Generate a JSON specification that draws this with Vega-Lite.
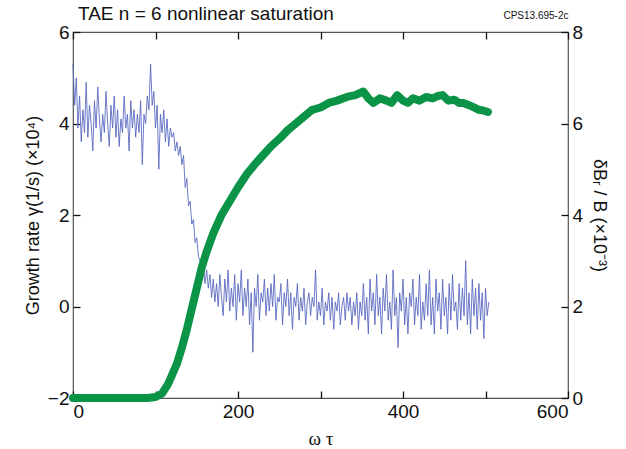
{
  "$schema": "https://vega.github.io/schema/vega-lite/v6.json",
  "autosize": "none",
  "padding": {"left": 73, "top": 32, "right": 58, "bottom": 51},
  "width": 495,
  "height": 366,
  "background": "white",
  "config": {
    "view": {"stroke": "#555", "strokeWidth": 1.2},
    "font": "Liberation Sans",
    "axis": {"grid": false, "domain": false, "ticks": true, "offset": -7, "tickColor": "#111", "tickWidth": 1.3, "tickSize": 7, "labelColor": "#111", "labelFontSize": 19, "labelFont": "Liberation Sans", "titleFont": "Liberation Sans", "titleFontSize": 18, "titleFontWeight": "normal", "titleColor": "#111", "labelPadding": 4}
  },
  "title": {"text": "TAE n = 6 nonlinear saturation", "anchor": "start", "frame": "group", "fontSize": 19, "fontWeight": "normal", "font": "Liberation Sans", "color": "#111", "offset": -14, "dx": 5},
  "datasets": {
    "growth": [
      {"t":0,"g":5.3},{"t":2,"g":4.4},{"t":4,"g":5.0},{"t":6,"g":3.9},{"t":8,"g":4.6},{"t":10,"g":3.6},{"t":12,"g":4.3},{"t":14,"g":3.8},{"t":16,"g":4.9},{"t":18,"g":3.7},
      {"t":20,"g":4.4},{"t":22,"g":4.0},{"t":24,"g":3.4},{"t":26,"g":4.5},{"t":28,"g":3.9},{"t":30,"g":4.8},{"t":32,"g":4.1},{"t":34,"g":3.6},{"t":36,"g":4.2},{"t":38,"g":3.8},
      {"t":40,"g":4.7},{"t":42,"g":4.0},{"t":44,"g":3.5},{"t":46,"g":4.4},{"t":48,"g":3.9},{"t":50,"g":4.6},{"t":52,"g":3.7},{"t":54,"g":4.3},{"t":56,"g":3.5},{"t":58,"g":4.1},
      {"t":60,"g":3.8},{"t":62,"g":4.6},{"t":64,"g":3.9},{"t":66,"g":4.2},{"t":68,"g":3.4},{"t":70,"g":4.5},{"t":72,"g":3.9},{"t":74,"g":4.3},{"t":76,"g":3.7},{"t":78,"g":4.2},
      {"t":80,"g":3.8},{"t":82,"g":4.5},{"t":84,"g":3.1},{"t":86,"g":4.2},{"t":88,"g":4.0},{"t":90,"g":4.6},{"t":92,"g":4.3},{"t":94,"g":5.3},{"t":96,"g":4.4},{"t":98,"g":4.7},
      {"t":100,"g":3.9},{"t":102,"g":4.4},{"t":104,"g":3.0},{"t":106,"g":4.2},{"t":108,"g":3.8},{"t":110,"g":4.3},{"t":112,"g":3.6},{"t":114,"g":4.1},{"t":116,"g":3.5},{"t":118,"g":3.9},
      {"t":120,"g":3.7},{"t":122,"g":3.8},{"t":124,"g":3.4},{"t":126,"g":3.6},{"t":128,"g":3.3},{"t":130,"g":3.5},{"t":132,"g":3.1},{"t":134,"g":3.3},{"t":136,"g":2.6},{"t":138,"g":2.8},
      {"t":140,"g":2.2},{"t":142,"g":2.3},{"t":144,"g":1.8},{"t":146,"g":1.9},{"t":148,"g":1.4},{"t":150,"g":1.5},{"t":152,"g":1.1},{"t":154,"g":1.0},{"t":156,"g":0.7},{"t":158,"g":0.9},
      {"t":160,"g":0.5},{"t":162,"g":0.8},{"t":164,"g":0.4},{"t":166,"g":0.7},{"t":168,"g":0.2},{"t":170,"g":0.6},{"t":172,"g":0.1},{"t":174,"g":0.5},{"t":176,"g":0.0},{"t":178,"g":0.7},
      {"t":180,"g":0.2},{"t":182,"g":-0.2},{"t":184,"g":0.6},{"t":186,"g":0.1},{"t":188,"g":0.8},{"t":190,"g":-0.1},{"t":192,"g":0.4},{"t":194,"g":0.0},{"t":196,"g":0.7},{"t":198,"g":-0.3},
      {"t":200,"g":0.5},{"t":202,"g":0.1},{"t":204,"g":0.8},{"t":206,"g":-0.2},{"t":208,"g":0.4},{"t":210,"g":0.0},{"t":212,"g":0.6},{"t":214,"g":-0.4},{"t":216,"g":0.3},{"t":218,"g":-1.0},
      {"t":220,"g":0.4},{"t":222,"g":0.0},{"t":224,"g":0.7},{"t":226,"g":-0.3},{"t":228,"g":0.3},{"t":230,"g":0.1},{"t":232,"g":0.6},{"t":234,"g":-0.2},{"t":236,"g":0.4},{"t":238,"g":-0.1},
      {"t":240,"g":0.5},{"t":242,"g":0.0},{"t":244,"g":0.7},{"t":246,"g":-0.3},{"t":248,"g":0.2},{"t":250,"g":0.1},{"t":252,"g":0.5},{"t":254,"g":-0.4},{"t":256,"g":0.3},{"t":258,"g":0.0},
      {"t":260,"g":0.6},{"t":262,"g":-0.2},{"t":264,"g":0.3},{"t":266,"g":-0.5},{"t":268,"g":0.2},{"t":270,"g":0.0},{"t":272,"g":0.5},{"t":274,"g":-0.3},{"t":276,"g":0.2},{"t":278,"g":-0.1},
      {"t":280,"g":0.4},{"t":282,"g":-0.4},{"t":284,"g":0.1},{"t":286,"g":0.3},{"t":288,"g":-0.2},{"t":290,"g":0.2},{"t":292,"g":0.0},{"t":294,"g":0.8},{"t":296,"g":-0.3},{"t":298,"g":0.1},
      {"t":300,"g":-0.2},{"t":302,"g":0.4},{"t":304,"g":-0.4},{"t":306,"g":0.1},{"t":308,"g":-0.1},{"t":310,"g":0.3},{"t":312,"g":-0.3},{"t":314,"g":0.2},{"t":316,"g":-0.5},{"t":318,"g":0.1},
      {"t":320,"g":-0.1},{"t":322,"g":0.3},{"t":324,"g":-0.4},{"t":326,"g":0.0},{"t":328,"g":0.2},{"t":330,"g":-0.3},{"t":332,"g":0.3},{"t":334,"g":-0.1},{"t":336,"g":0.2},{"t":338,"g":-0.4},
      {"t":340,"g":0.1},{"t":342,"g":-0.2},{"t":344,"g":0.3},{"t":346,"g":-0.5},{"t":348,"g":0.1},{"t":350,"g":-0.2},{"t":352,"g":0.5},{"t":354,"g":-0.3},{"t":356,"g":0.2},{"t":358,"g":-0.6},
      {"t":360,"g":0.6},{"t":362,"g":-0.1},{"t":364,"g":0.3},{"t":366,"g":-0.4},{"t":368,"g":0.7},{"t":370,"g":-0.2},{"t":372,"g":0.2},{"t":374,"g":-0.6},{"t":376,"g":0.4},{"t":378,"g":-0.1},
      {"t":380,"g":0.7},{"t":382,"g":-0.3},{"t":384,"g":0.1},{"t":386,"g":-0.5},{"t":388,"g":0.8},{"t":390,"g":-0.2},{"t":392,"g":0.2},{"t":394,"g":-0.9},{"t":396,"g":0.3},{"t":398,"g":-0.1},
      {"t":400,"g":0.6},{"t":402,"g":-0.4},{"t":404,"g":0.2},{"t":406,"g":-0.6},{"t":408,"g":0.3},{"t":410,"g":0.0},{"t":412,"g":0.6},{"t":414,"g":-0.4},{"t":416,"g":0.2},{"t":418,"g":-0.2},
      {"t":420,"g":0.7},{"t":422,"g":-0.5},{"t":424,"g":0.1},{"t":426,"g":-0.3},{"t":428,"g":0.5},{"t":430,"g":-0.2},{"t":432,"g":0.8},{"t":434,"g":-0.4},{"t":436,"g":0.2},{"t":438,"g":-0.6},
      {"t":440,"g":0.6},{"t":442,"g":-0.1},{"t":444,"g":0.3},{"t":446,"g":-0.5},{"t":448,"g":0.6},{"t":450,"g":-0.2},{"t":452,"g":0.2},{"t":454,"g":-0.6},{"t":456,"g":0.5},{"t":458,"g":-0.3},
      {"t":460,"g":0.7},{"t":462,"g":-0.1},{"t":464,"g":0.1},{"t":466,"g":-0.5},{"t":468,"g":0.5},{"t":470,"g":-0.3},{"t":472,"g":0.4},{"t":474,"g":-0.2},{"t":476,"g":1.0},{"t":478,"g":-0.4},
      {"t":480,"g":0.3},{"t":482,"g":-0.6},{"t":484,"g":0.6},{"t":486,"g":-0.2},{"t":488,"g":0.4},{"t":490,"g":-0.5},{"t":492,"g":0.5},{"t":494,"g":-0.3},{"t":496,"g":0.3},{"t":498,"g":-0.7},
      {"t":500,"g":0.4},{"t":502,"g":-0.2},{"t":504,"g":0.1}
    ],
    "flux": [
      {"t":0,"b":0},{"t":90,"b":0},{"t":100,"b":0.02},{"t":108,"b":0.1},{"t":115,"b":0.3},{"t":120,"b":0.5},{"t":126,"b":0.75},{"t":132,"b":1.1},{"t":138,"b":1.5},{"t":144,"b":1.95},
      {"t":150,"b":2.4},{"t":156,"b":2.85},{"t":162,"b":3.2},{"t":170,"b":3.6},{"t":180,"b":4.0},{"t":190,"b":4.3},{"t":200,"b":4.6},{"t":211,"b":4.9},{"t":220,"b":5.1},{"t":230,"b":5.3},
      {"t":240,"b":5.5},{"t":251,"b":5.68},{"t":260,"b":5.85},{"t":270,"b":6.0},{"t":280,"b":6.15},{"t":290,"b":6.3},{"t":300,"b":6.35},{"t":310,"b":6.45},{"t":320,"b":6.5},{"t":332,"b":6.58},
      {"t":342,"b":6.62},{"t":352,"b":6.7},{"t":358,"b":6.55},{"t":364,"b":6.45},{"t":372,"b":6.55},{"t":380,"b":6.5},{"t":386,"b":6.45},{"t":393,"b":6.62},{"t":400,"b":6.5},{"t":406,"b":6.45},
      {"t":412,"b":6.55},{"t":420,"b":6.5},{"t":428,"b":6.58},{"t":436,"b":6.55},{"t":442,"b":6.6},{"t":448,"b":6.62},{"t":455,"b":6.5},{"t":462,"b":6.52},{"t":468,"b":6.45},{"t":473,"b":6.45},
      {"t":480,"b":6.4},{"t":486,"b":6.35},{"t":492,"b":6.3},{"t":498,"b":6.28},{"t":503,"b":6.25}
    ]
  },
  "layer": [
    {
      "data": {"name": "growth"},
      "mark": {"type": "line", "color": "#5464be", "strokeWidth": 1, "opacity": 0.85},
      "encoding": {
        "x": {"field": "t", "type": "quantitative", "scale": {"domain": [0, 600], "nice": false},
          "axis": {"orient": "bottom", "values": [0,100,200,300,400,500,600], "labelExpr": "datum.value % 200 == 0 ? datum.label : ''", "title": "ω τ", "titleFont": "Liberation Serif", "titleFontSize": 19, "titlePadding": 8}},
        "y": {"field": "g", "type": "quantitative", "scale": {"domain": [-2, 6], "nice": false},
          "axis": {"orient": "left", "values": [-2,0,2,4,6], "labelExpr": "replace(datum.label, '-', '−')", "title": "Growth rate γ(1/s) (×10⁴)", "titlePadding": 5}}
      }
    },
    {
      "data": {"name": "flux"},
      "mark": {"type": "line", "color": "#0b9447", "strokeWidth": 8, "strokeCap": "round", "strokeJoin": "round"},
      "encoding": {
        "x": {"field": "t", "type": "quantitative", "scale": {"domain": [0, 600], "nice": false},
          "axis": {"orient": "top", "values": [0,100,200,300,400,500,600], "labels": false, "title": "CPS13.695-2c", "titleFontSize": 10, "titleAnchor": "end", "titlePadding": 11}},
        "y": {"field": "b", "type": "quantitative", "scale": {"domain": [0, 8], "nice": false},
          "axis": {"orient": "right", "values": [0,2,4,6,8], "title": "δBᵣ / B (×10⁻³)", "titlePadding": 7}}
      }
    }
  ],
  "resolve": {"scale": {"y": "independent"}, "axis": {"x": "independent"}}
}
